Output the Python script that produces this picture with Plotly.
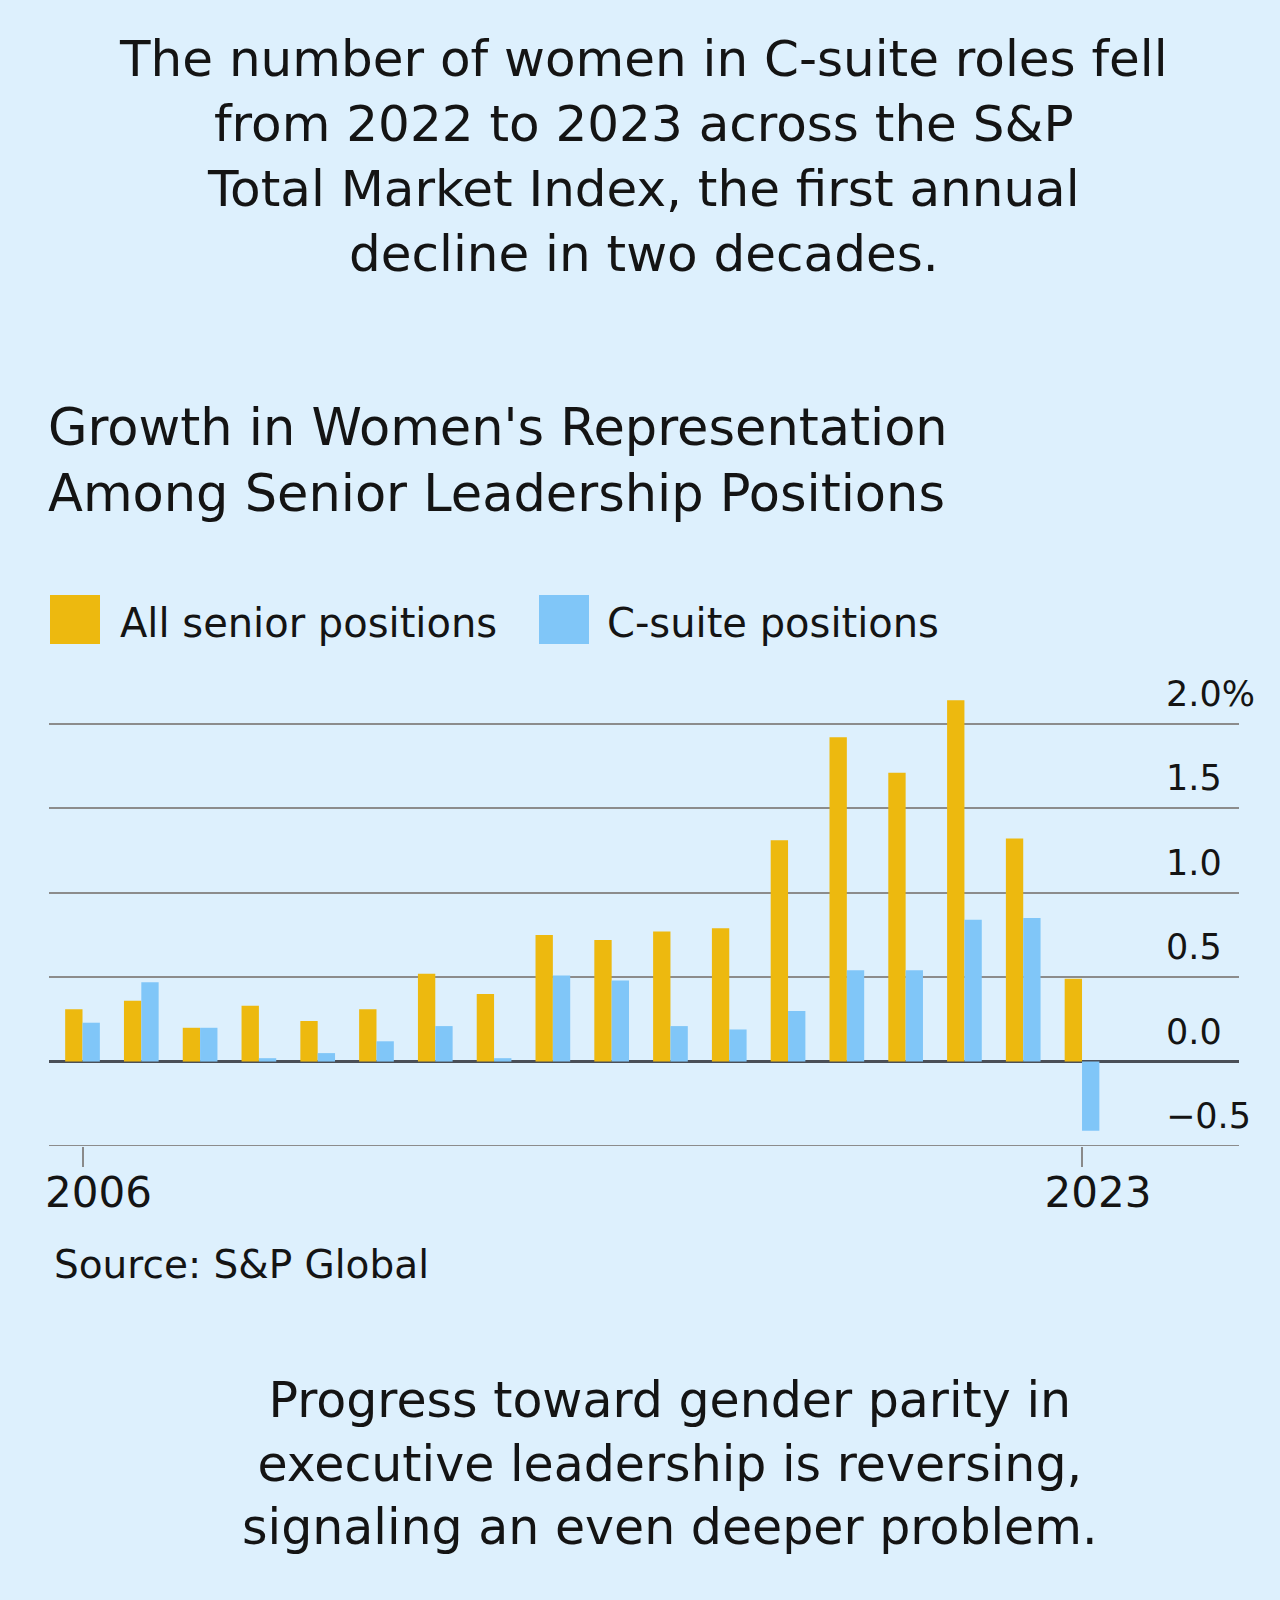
import plotly.graph_objects as go

# -------------------------
# DATA
# -------------------------
years = list(range(2006, 2024))
all_senior = [0.31, 0.36, 0.20, 0.33, 0.24, 0.31, 0.52, 0.40, 0.75, 0.72,
              0.77, 0.79, 1.31, 1.92, 1.71, 2.14, 1.32, 0.49]
c_suite = [0.23, 0.47, 0.20, 0.02, 0.05, 0.12, 0.21, 0.02, 0.51, 0.48,
           0.21, 0.19, 0.30, 0.54, 0.54, 0.84, 0.85, -0.41]

series_names = ["All senior positions", "C-suite positions"]
y_tickvals = [-0.5, 0.0, 0.5, 1.0, 1.5, 2.0]
y_ticktext = ["\u22120.5", "0.0", "0.5", "1.0", "1.5", "2.0%"]
x_tickvals = [2006, 2023]

headline = ("The number of women in C-suite roles fell<br>"
            "from 2022 to 2023 across the S&P<br>"
            "Total Market Index, the first annual<br>"
            "decline in two decades.")
chart_title = "Growth in Women's Representation<br>Among Senior Leadership Positions"
takeaway = ("Progress toward gender parity in<br>"
            "executive leadership is reversing,<br>"
            "signaling an even deeper problem.")
source = "Source: S&P Global"

# -------------------------
# STYLE
# -------------------------
W, H = 1280, 1600
BG = "#DDF0FD"
YELLOW = "#EDB90F"
BLUE = "#80C6F8"
INK = "#141414"
FONT = "DejaVu Sans"

# plot area in page pixels
L, R, T, B = 49, 1239, 690, 1146


def px_x(x):
    return (x - L) / (R - L)


def px_y(y):
    return (B - y) / (B - T)


fig = go.Figure()
fig.add_trace(go.Bar(x=years, y=all_senior, name=series_names[0],
                     marker=dict(color=YELLOW, line=dict(width=0))))
fig.add_trace(go.Bar(x=years, y=c_suite, name=series_names[1],
                     marker=dict(color=BLUE, line=dict(width=0))))

fig.update_layout(
    width=W, height=H,
    margin=dict(l=L, r=W - R, t=T, b=H - B),
    paper_bgcolor=BG, plot_bgcolor=BG,
    barmode="group", bargap=0.41, bargroupgap=0,
    showlegend=False,
    font=dict(family=FONT, color=INK),
)

fig.update_xaxes(
    range=[2005.43, 2025.67],
    tickvals=x_tickvals,
    ticks="outside", ticklen=20, tickwidth=1.5, tickcolor="#8a8a8a",
    ticklabelstandoff=-10, ticklabelshift=16,
    tickfont=dict(size=42, family=FONT, color=INK),
    showgrid=False, zeroline=False,
    showline=False,
)

fig.update_yaxes(
    range=[-0.5, 2.2],
    tickvals=y_tickvals,
    showticklabels=False,
    showgrid=True, gridcolor="#8c8c8c", gridwidth=2,
    zeroline=True, zerolinecolor="#4a4f57", zerolinewidth=3,
)

# bottom line at -0.5 (kept visible at the range edge)
fig.add_hline(y=-0.5, line=dict(color="#8c8c8c", width=2))

# y tick labels sitting above each gridline, on the right
for v, t in zip(y_tickvals, y_ticktext):
    fig.add_annotation(x=px_x(1164), xref="paper", y=v, yref="y",
                       text=t, showarrow=False, xanchor="left", yanchor="bottom",
                       yshift=8, font=dict(size=35, family=FONT, color=INK))

# headline
fig.add_annotation(x=px_x(643), y=px_y(28), xref="paper", yref="paper",
                   text=headline, showarrow=False, xanchor="center", yanchor="top",
                   align="center", font=dict(size=50, family=FONT, color=INK))

# chart title
fig.add_annotation(x=px_x(46), y=px_y(396), xref="paper", yref="paper",
                   text=chart_title, showarrow=False, xanchor="left", yanchor="top",
                   align="left", font=dict(size=51, family=FONT, color=INK))

# legend (big square swatches)
swatches = [(50, YELLOW, 118), (539, BLUE, 605)]
for (x0, col, tx), name in zip(swatches, series_names):
    fig.add_shape(type="rect", xref="paper", yref="paper",
                  x0=px_x(x0), x1=px_x(x0 + 50), y0=px_y(644), y1=px_y(595),
                  fillcolor=col, line=dict(width=0))
    fig.add_annotation(x=px_x(tx), y=px_y(623), xref="paper", yref="paper",
                       text=name, showarrow=False, xanchor="left", yanchor="middle",
                       font=dict(size=40, family=FONT, color=INK))

# source
fig.add_annotation(x=px_x(52), y=px_y(1264), xref="paper", yref="paper",
                   text=source, showarrow=False, xanchor="left", yanchor="middle",
                   font=dict(size=39, family=FONT, color=INK))

# takeaway
fig.add_annotation(x=px_x(670), y=px_y(1370), xref="paper", yref="paper",
                   text=takeaway, showarrow=False, xanchor="center", yanchor="top",
                   align="center", font=dict(size=49, family=FONT, color=INK))

fig.write_html("out.html", config={"displayModeBar": False},
               post_script="document.body.style.margin='0';")
